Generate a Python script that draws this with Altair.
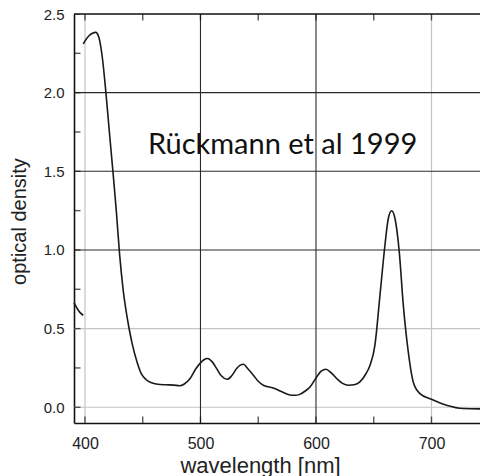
import altair as alt
import pandas as pd

# Main absorption spectrum
wavelength = [398.5, 401, 403.5, 406.5, 409.3, 412, 415, 418, 421, 424.2, 427.1, 430,
              433, 437, 441, 445, 449, 453, 457, 463, 470, 477, 482, 486, 491, 496,
              500, 503, 506.2, 510, 514, 518, 523.2, 527, 531.3, 534.5, 537.1, 541,
              545.8, 550, 554.4, 563, 570, 577.5, 582, 586, 591, 595, 600.6, 604.5,
              608.7, 613, 617.9, 623, 628, 633, 638, 643, 646.8, 651, 655.4, 659.7,
              662.6, 665.5, 668.4, 672.1, 675.6, 679.9, 684.2, 690, 700, 713, 727.5, 742]
density = [2.31, 2.34, 2.362, 2.378, 2.383, 2.352, 2.225, 2.01, 1.76, 1.50, 1.25, 0.97,
           0.75, 0.55, 0.40, 0.29, 0.21, 0.175, 0.157, 0.146, 0.143, 0.141, 0.137, 0.148,
           0.183, 0.245, 0.282, 0.302, 0.31, 0.29, 0.246, 0.20, 0.178, 0.20, 0.246, 0.268,
           0.273, 0.245, 0.204, 0.165, 0.14, 0.123, 0.10, 0.078, 0.076, 0.082, 0.105, 0.13,
           0.193, 0.23, 0.242, 0.22, 0.183, 0.152, 0.14, 0.143, 0.161, 0.21, 0.267, 0.394,
           0.712, 1.03, 1.2, 1.249, 1.2, 0.988, 0.649, 0.352, 0.161, 0.087, 0.051, 0.013,
           -0.008, -0.01]

# Small fragment of another curve at the left edge
frag_wavelength = [390.5, 393.5, 396, 398.5]
frag_density = [0.665, 0.625, 0.60, 0.585]

x_domain = [390.5, 742]
y_domain = [-0.1, 2.5]

x_labels = [400, 500, 600, 700]
y_labels = [0.0, 0.5, 1.0, 1.5, 2.0, 2.5]
x_ticks = [400, 450, 500, 550, 600, 650, 700]
y_ticks = [0.0, 0.25, 0.5, 0.75, 1.0, 1.25, 1.5, 1.75, 2.0, 2.25, 2.5]

grid_dark_x = [500, 600]
grid_light_x = [400, 700]
grid_dark_y = [1.0, 1.5, 2.0]
grid_light_y = [0.0, 0.5]

annotation = "Rückmann et al 1999"
annotation_pos = (454.5, 1.61)

curve = pd.DataFrame({
    "wl": wavelength + frag_wavelength,
    "od": density + frag_density,
    "seg": ["main"] * len(wavelength) + ["frag"] * len(frag_wavelength),
})

xs = alt.Scale(domain=x_domain, nice=False, zero=False)
ys = alt.Scale(domain=y_domain, nice=False, zero=False)

axis_font = "Liberation Sans"

x_axis = alt.Axis(values=x_labels, title="wavelength [nm]", grid=False, tickSize=0,
                  labelPadding=12, labelFontSize=16, labelFont=axis_font, labelColor="#222",
                  domainColor="#111", domainWidth=1.6,
                  titleFont=axis_font, titleFontSize=22, titleFontWeight="normal",
                  titleColor="#222", titleX=186, titleY=49, titleBaseline="alphabetic",
                  titleAlign="center", format=".0f")
y_axis = alt.Axis(values=y_labels, title="optical density", grid=False, tickSize=0,
                  labelPadding=10, labelFontSize=15, labelFont=axis_font, labelColor="#222",
                  domainColor="#111", domainWidth=1.6, format=".1f",
                  titleFont=axis_font, titleFontSize=20, titleFontWeight="normal",
                  titleColor="#222", titleAngle=270, titleX=-49, titleY=207,
                  titleBaseline="alphabetic", titleAlign="center")

Xn = lambda f: alt.X(f, scale=xs, axis=None)
Yn = lambda f: alt.Y(f, scale=ys, axis=None)

line = alt.Chart(curve).mark_line(color="#1a1a1a", strokeWidth=1.6,
                                  interpolate="monotone").encode(
    x=alt.X("wl:Q", scale=xs, axis=x_axis),
    y=alt.Y("od:Q", scale=ys, axis=y_axis),
    detail="seg:N")

def vgrid(vals, color, width):
    return alt.Chart(pd.DataFrame({"wl": vals})).mark_rule(color=color, strokeWidth=width).encode(
        x=Xn("wl:Q"))

def hgrid(vals, color, width):
    return alt.Chart(pd.DataFrame({"od": vals})).mark_rule(color=color, strokeWidth=width).encode(
        y=Yn("od:Q"))

grids = [
    vgrid(grid_light_x, "#c4c4c4", 1.2),
    hgrid(grid_light_y, "#c4c4c4", 1.2),
    vgrid(grid_dark_x, "#2a2a2a", 1.1),
    hgrid(grid_dark_y, "#2a2a2a", 1.1),
]

xt_df = pd.DataFrame({"wl": x_ticks})
yt_df = pd.DataFrame({"od": y_ticks})

TICK = 13
bottom_ticks = alt.Chart(xt_df).mark_tick(orient="vertical", size=TICK, thickness=1.4,
                                          color="#111", clip=True).encode(
    x=Xn("wl:Q"), y=alt.YDatum(y_domain[0], scale=ys, axis=None))
top_ticks = alt.Chart(xt_df).mark_tick(orient="vertical", size=TICK, thickness=1.4,
                                       color="#111", clip=True).encode(
    x=Xn("wl:Q"), y=alt.YDatum(y_domain[1], scale=ys, axis=None))
left_ticks = alt.Chart(yt_df).mark_tick(orient="horizontal", size=TICK, thickness=1.4,
                                        color="#111", clip=True).encode(
    y=Yn("od:Q"), x=alt.XDatum(x_domain[0], scale=xs, axis=None))

top_frame = alt.Chart(pd.DataFrame({"od": [y_domain[1]]})).mark_rule(
    color="#111", strokeWidth=1.6).encode(y=Yn("od:Q"))

label = alt.Chart(pd.DataFrame({"wl": [annotation_pos[0]], "od": [annotation_pos[1]],
                                "t": [annotation]})).mark_text(
    align="left", baseline="alphabetic", fontSize=29, font="Lato", color="#111").encode(
    x=Xn("wl:Q"), y=Yn("od:Q"), text="t:N")

chart = alt.layer(*grids, bottom_ticks, top_ticks, left_ticks, top_frame, line,
                  label).resolve_axis(x="independent", y="independent").properties(
    width=406, height=409,
    padding={"left": 74, "top": 14, "right": 0, "bottom": 53},
    autosize=alt.AutoSizeParams(type="none"),
    background="white",
).configure_view(stroke=None)

chart.save("out.html", embed_options={"renderer": "svg", "actions": False})
